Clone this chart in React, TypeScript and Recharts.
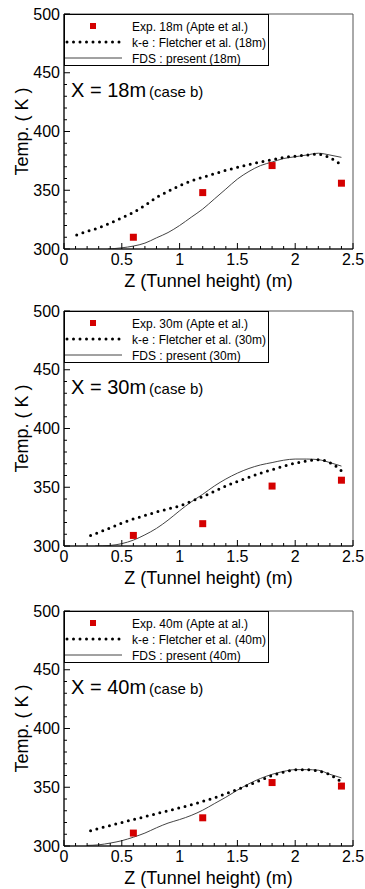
import React from 'react';
import { ComposedChart, Line, Scatter, XAxis, YAxis, ReferenceArea, Legend } from 'recharts';

const FONT = '"Liberation Sans", Arial, Helvetica, sans-serif';

// ---- axis ticks ----
const xMajorTicks = [0, 0.5, 1, 1.5, 2, 2.5];
const xTickLabels = ['0', '0.5', '1', '1.5', '2', '2.5'];
const xMinorTicks = [0.1, 0.2, 0.3, 0.4, 0.6, 0.7, 0.8, 0.9, 1.1, 1.2, 1.3, 1.4, 1.6, 1.7, 1.8, 1.9, 2.1, 2.2, 2.3, 2.4];
const yMajorTicks = [300, 350, 400, 450, 500];
const yTickLabels = ['300', '350', '400', '450', '500'];
const yMinorTicks = [310, 320, 330, 340, 360, 370, 380, 390, 410, 420, 430, 440, 460, 470, 480, 490];

// ---- experimental points (Apte et al.) ----
const expZ = [0.6, 1.2, 1.8, 2.4];
const exp18 = [310, 348, 371, 356];
const exp30 = [309, 319, 351, 356];
const exp40 = [311, 324, 354, 351];

// ---- k-e : Fletcher et al. ----
const ke18Z = [0.11, 0.2, 0.3, 0.4, 0.5, 0.6, 0.7, 0.8, 0.9, 1.0, 1.1, 1.2, 1.3, 1.4, 1.5, 1.6, 1.7, 1.8, 1.9, 2.0, 2.1, 2.2, 2.3, 2.38];
const ke18T = [312, 315, 318, 322, 326.5, 331, 337, 344, 349, 354, 358, 361, 364, 367, 369.5, 372, 374, 376, 378, 379, 380, 381, 378, 373];
const ke30Z = [0.23, 0.3, 0.4, 0.5, 0.6, 0.7, 0.8, 0.9, 1.0, 1.1, 1.2, 1.3, 1.4, 1.5, 1.6, 1.7, 1.8, 1.9, 2.0, 2.1, 2.2, 2.25, 2.3, 2.35, 2.4];
const ke30T = [309, 311.5, 315.5, 319.5, 323, 326, 329, 331.5, 334, 338, 342, 346.5, 351, 355, 358.5, 362, 365, 368, 370.5, 372.5, 373.5, 373, 371, 368, 364];
const ke40Z = [0.23, 0.3, 0.4, 0.5, 0.6, 0.7, 0.8, 0.9, 1.0, 1.1, 1.2, 1.3, 1.4, 1.5, 1.6, 1.7, 1.8, 1.9, 2.0, 2.1, 2.2, 2.3, 2.38];
const ke40T = [313, 315, 317.5, 320, 322.5, 325, 327.5, 330, 332.5, 335, 338, 341, 344.5, 348, 352, 356, 360, 363, 365, 365, 364, 361, 356];

// ---- FDS : present ----
const fds18Z = [0.38, 0.5, 0.6, 0.7, 0.8, 0.9, 1.0, 1.1, 1.2, 1.3, 1.4, 1.5, 1.6, 1.7, 1.8, 1.9, 2.0, 2.1, 2.2, 2.3, 2.4];
const fds18T = [300, 301, 302.5, 305, 309.5, 314, 320, 327, 334, 342.5, 351, 359.5, 366, 371, 374, 377, 378.5, 380, 381.5, 380, 378];
const fds30Z = [0.27, 0.4, 0.5, 0.6, 0.7, 0.8, 0.9, 1.0, 1.1, 1.2, 1.3, 1.4, 1.5, 1.6, 1.7, 1.8, 1.9, 2.0, 2.1, 2.2, 2.3, 2.4];
const fds30T = [300, 300.5, 302, 305, 309.5, 315, 322, 330, 337.5, 344, 351, 357, 362, 366, 369, 371, 373, 374, 374, 373.5, 371, 368];
const fds40Z = [0.2, 0.3, 0.4, 0.5, 0.6, 0.7, 0.8, 0.9, 1.0, 1.1, 1.2, 1.3, 1.4, 1.5, 1.6, 1.7, 1.8, 1.9, 2.0, 2.1, 2.2, 2.3, 2.4];
const fds40T = [300.5, 301, 302.5, 304.5, 307.5, 311, 315.5, 319.5, 322.5, 326, 330.5, 336, 341.5, 347.5, 353, 357.5, 361, 363.5, 365, 365, 364.5, 361, 358];

// ---- texts ----
const legend18 = ['Exp. 18m (Apte et al.)', 'k-e : Fletcher et al. (18m)', 'FDS : present (18m)'];
const legend30 = ['Exp. 30m (Apte et al.)', 'k-e : Fletcher et al. (30m)', 'FDS : present (30m)'];
const legend40 = ['Exp. 40m (Apte at al.)', 'k-e : Fletcher et al. (40m)', 'FDS : present (40m)'];
const titles = ['X = 18m', 'X = 30m', 'X = 40m'];
const caseLabel = '(case b)';
const xAxisTitle = 'Z (Tunnel height) (m)';
const yAxisTitle = 'Temp. ( K )';

const zip = (zs: number[], ts: number[]) => zs.map((z, i) => ({ z, t: ts[i] }));

const RED = '#d40000';

const XTick = (props: any) => {
  const { x, y, payload } = props;
  const idx = xMajorTicks.indexOf(payload.value);
  const major = idx >= 0;
  return (
    <g>
      <line x1={x} x2={x} y1={y} y2={y - (major ? 6 : 3)} stroke="#000" strokeWidth={1} />
      {major && (
        <text x={x} y={y + 16} textAnchor="middle" fontSize={16} fontFamily={FONT} fill="#000">
          {xTickLabels[idx]}
        </text>
      )}
    </g>
  );
};

const YTick = (props: any) => {
  const { x, y, payload } = props;
  const idx = yMajorTicks.indexOf(payload.value);
  const major = idx >= 0;
  return (
    <g>
      <line x1={x} x2={x + (major ? 6 : 3)} y1={y} y2={y} stroke="#000" strokeWidth={1} />
      {major && (
        <text x={x - 4} y={y + 5.5} textAnchor="end" fontSize={16} fontFamily={FONT} fill="#000">
          {yTickLabels[idx]}
        </text>
      )}
    </g>
  );
};

const XLabel = (props: any) => {
  const vb = props.viewBox || {};
  return (
    <text x={vb.x + vb.width / 2} y={vb.y + 38} textAnchor="middle" fontSize={18} fontFamily={FONT} fill="#000">
      {xAxisTitle}
    </text>
  );
};

const YLabel = (props: any) => {
  const vb = props.viewBox || {};
  const cx = 28;
  const cy = vb.y + vb.height / 2;
  return (
    <text x={cx} y={cy} transform={`rotate(-90 ${cx} ${cy})`} textAnchor="middle" fontSize={18} fontFamily={FONT} fill="#000">
      {yAxisTitle}
    </text>
  );
};

const LegendBox = ({ labels }: { labels: string[] }) => (
  <div
    style={{
      width: 205,
      height: 52,
      border: '1px solid #000',
      background: '#fff',
      boxSizing: 'border-box',
    }}
  >
    <svg width={203} height={50} style={{ display: 'block', overflow: 'visible' }}>
      <rect x={25} y={8} width={6} height={6} fill={RED} />
      <line x1={2} x2={57} y1={27} y2={27} stroke="#000" strokeWidth={3} strokeDasharray="0 6.5" strokeLinecap="round" />
      <line x1={0} x2={57} y1={43} y2={43} stroke="#444" strokeWidth={1} />
      {labels.map((l, i) => (
        <text key={i} x={67} y={15.5 + 16 * i} fontSize={12} fontFamily={FONT} fill="#000">
          {l}
        </text>
      ))}
    </svg>
  </div>
);

const Square = (props: any) => {
  const { cx, cy } = props;
  return <rect x={cx - 3.5} y={cy - 3.5} width={7} height={7} fill={RED} />;
};

type PanelProps = {
  top: number;
  title: string;
  labels: string[];
  exp: number[];
  keZ: number[];
  keT: number[];
  fdsZ: number[];
  fdsT: number[];
};

const Panel = ({ top, title, labels, exp, keZ, keT, fdsZ, fdsT }: PanelProps) => {
  const expData = zip(expZ, exp);
  const keData = zip(keZ, keT);
  const fdsData = zip(fdsZ, fdsT);
  return (
    <div style={{ position: 'absolute', left: 0, top, width: 365, height: 294 }}>
      <ComposedChart width={365} height={294} margin={{ top: 14, right: 12, bottom: 0, left: 0 }}>
        <ReferenceArea x1={0} x2={2.5} y1={300} y2={500} fill="none" stroke="#555" strokeWidth={1} ifOverflow="visible" />
        <XAxis
          type="number"
          dataKey="z"
          domain={[0, 2.5]}
          ticks={[...xMajorTicks, ...xMinorTicks].sort((a, b) => a - b)}
          interval={0}
          tickSize={0}
          tickMargin={0}
          tickLine={false}
          tick={<XTick />}
          axisLine={{ stroke: '#000', strokeWidth: 1 }}
          height={45}
          allowDataOverflow
          label={<XLabel />}
        />
        <YAxis
          type="number"
          dataKey="t"
          domain={[300, 500]}
          ticks={[...yMajorTicks, ...yMinorTicks].sort((a, b) => a - b)}
          interval={0}
          tickSize={0}
          tickMargin={0}
          tickLine={false}
          tick={<YTick />}
          axisLine={{ stroke: '#000', strokeWidth: 1 }}
          width={64}
          allowDataOverflow
          label={<YLabel />}
        />
        <Line
          data={fdsData}
          dataKey="t"
          type="monotone"
          stroke="#444"
          strokeWidth={1}
          dot={false}
          activeDot={false}
          isAnimationActive={false}
          legendType="none"
        />
        <Line
          data={keData}
          dataKey="t"
          type="linear"
          stroke="#000"
          strokeWidth={3}
          strokeDasharray="0 6.5"
          strokeLinecap="round"
          dot={false}
          activeDot={false}
          isAnimationActive={false}
          legendType="none"
        />
        <Scatter data={expData} dataKey="t" shape={<Square />} isAnimationActive={false} legendType="none" />
        <Legend
          layout="horizontal"
          verticalAlign="middle"
          align="center"
          content={() => <LegendBox labels={labels} />}
          wrapperStyle={{ left: 64, top: 14, width: 205, height: 52 }}
        />
      </ComposedChart>
      <div
        style={{
          position: 'absolute',
          left: 71,
          top: 14 + 64,
          fontFamily: FONT,
          color: '#000',
          whiteSpace: 'nowrap',
          lineHeight: '24px',
        }}
      >
        <span style={{ fontSize: 20 }}>{title}</span>
        <span style={{ fontSize: 15, marginLeft: 3 }}>{caseLabel}</span>
      </div>
    </div>
  );
};

export default function App() {
  return (
    <div
      style={{
        position: 'absolute',
        left: 0,
        top: 0,
        width: 365,
        height: 889,
        overflow: 'hidden',
        background: '#fff',
      }}
    >
      <Panel top={0} title={titles[0]} labels={legend18} exp={exp18} keZ={ke18Z} keT={ke18T} fdsZ={fds18Z} fdsT={fds18T} />
      <Panel top={297} title={titles[1]} labels={legend30} exp={exp30} keZ={ke30Z} keT={ke30T} fdsZ={fds30Z} fdsT={fds30T} />
      <Panel top={597} title={titles[2]} labels={legend40} exp={exp40} keZ={ke40Z} keT={ke40T} fdsZ={fds40Z} fdsT={fds40T} />
    </div>
  );
}
